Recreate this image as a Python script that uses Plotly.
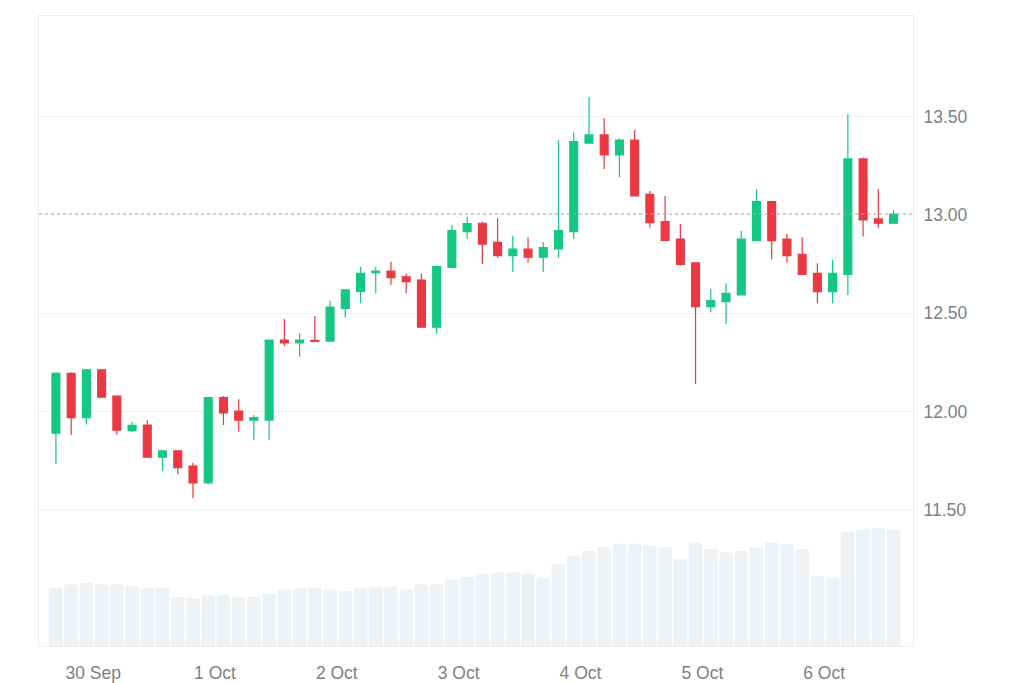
import pandas as pd
import plotly.graph_objects as go

# 3-hour candles
start_time = "2024-09-29 16:40"

opens = [11.89, 12.195, 11.969, 12.212, 12.079, 11.903, 11.932, 11.768, 11.800, 11.723,
         11.638, 12.071, 12.003, 11.957, 11.957, 12.364, 12.350, 12.362, 12.359, 12.525,
         12.611, 12.707, 12.715, 12.686, 12.669, 12.429, 12.734, 12.915, 12.958, 12.861,
         12.793, 12.826, 12.785, 12.827, 12.915, 13.365, 13.407, 13.305, 13.381, 13.105,
         12.966, 12.878, 12.757, 12.534, 12.559, 12.593, 12.869, 13.068, 12.878, 12.800,
         12.703, 12.610, 12.698, 13.285, 12.980, 12.958]
highs = [12.200, 12.200, 12.217, 12.217, 12.082, 11.949, 11.957, 11.800, 11.800, 11.740,
         12.071, 12.079, 12.063, 11.983, 12.364, 12.471, 12.398, 12.486, 12.564, 12.622,
         12.737, 12.737, 12.762, 12.703, 12.703, 12.746, 12.949, 12.991, 12.966, 12.983,
         12.895, 12.887, 12.861, 13.381, 13.419, 13.599, 13.492, 13.390, 13.432, 13.122,
         13.097, 12.954, 12.757, 12.624, 12.653, 12.920, 13.131, 13.068, 12.903, 12.887,
         12.754, 12.771, 13.512, 13.292, 13.131, 13.025]
lows = [11.733, 11.881, 11.935, 12.070, 11.881, 11.898, 11.766, 11.698, 11.681, 11.559,
        11.630, 11.932, 11.898, 11.856, 11.856, 12.334, 12.279, 12.355, 12.359, 12.480,
        12.551, 12.602, 12.644, 12.602, 12.429, 12.393, 12.734, 12.878, 12.751, 12.783,
        12.710, 12.757, 12.710, 12.783, 12.878, 13.365, 13.234, 13.192, 13.097, 12.932,
        12.869, 12.742, 12.140, 12.505, 12.446, 12.593, 12.869, 12.775, 12.757, 12.698,
        12.551, 12.551, 12.593, 12.890, 12.932, 12.958]
closes = [12.195, 11.969, 12.212, 12.073, 11.906, 11.930, 11.768, 11.800, 11.715, 11.638,
          12.071, 11.994, 11.957, 11.969, 12.364, 12.350, 12.364, 12.357, 12.531, 12.619,
          12.703, 12.715, 12.681, 12.661, 12.429, 12.737, 12.920, 12.956, 12.852, 12.793,
          12.826, 12.785, 12.834, 12.920, 13.373, 13.407, 13.305, 13.381, 13.097, 12.961,
          12.871, 12.749, 12.534, 12.564, 12.602, 12.878, 13.068, 12.869, 12.793, 12.698,
          12.610, 12.703, 13.285, 12.975, 12.958, 13.005]
volumes = [5.77, 6.17, 6.33, 6.17, 6.17, 6.03, 5.83, 5.83, 4.93, 4.83,
           5.10, 5.10, 4.93, 4.93, 5.27, 5.67, 5.77, 5.83, 5.67, 5.50,
           5.77, 5.93, 5.93, 5.67, 6.17, 6.17, 6.67, 6.93, 7.20, 7.37,
           7.37, 7.20, 6.83, 8.20, 9.03, 9.53, 9.90, 10.23, 10.23, 10.07,
           9.90, 8.70, 10.37, 9.70, 9.37, 9.53, 9.87, 10.37, 10.20, 9.70,
           7.00, 6.83, 11.43, 11.70, 11.77, 11.60]

price_ticks = [11.5, 12.0, 12.5, 13.0, 13.5]

times = pd.date_range(start_time, periods=len(closes), freq="3h")

green = "#16c784"
red = "#ea3943"
text_gray = "#7d7f85"
font_family = "Liberation Sans, Arial, sans-serif"

fig = go.Figure()

fig.add_trace(go.Bar(
    x=times,
    y=volumes,
    yaxis="y2",
    marker=dict(color="#eff2f5", line=dict(width=0), cornerradius=3),
    width=3 * 3600 * 1000 * 0.92,
    hoverinfo="skip",
    showlegend=False,
))

fig.add_trace(go.Candlestick(
    x=times,
    open=opens,
    high=highs,
    low=lows,
    close=closes,
    increasing=dict(line=dict(color=green, width=1.2), fillcolor=green),
    decreasing=dict(line=dict(color=red, width=1.2), fillcolor=red),
    whiskerwidth=0,
    showlegend=False,
))

# dotted line at the latest price
fig.add_shape(
    type="line", xref="paper", x0=0, x1=1, yref="y",
    y0=closes[-1], y1=closes[-1],
    line=dict(color="#a8aaaf", width=1.2, dash="dot"),
)

fig.update_layout(
    width=1024,
    height=683,
    paper_bgcolor="white",
    plot_bgcolor="white",
    margin=dict(l=39, r=111, t=16, b=37),
    boxgap=0.26,
    font=dict(family=font_family, size=17.5, color=text_gray),
    xaxis=dict(
        type="date",
        range=["2024-09-29 13:20", "2024-10-06 17:30"],
        rangeslider=dict(visible=False),
        dtick=86400000,
        tick0="2024-09-30",
        tickformat="%-d %b",
        showgrid=False,
        showline=True,
        linecolor="#ececec",
        linewidth=1,
        mirror=True,
        ticks="",
        ticklabelstandoff=11,
        tickfont=dict(size=17.5, color=text_gray),
        automargin=False,
        fixedrange=True,
    ),
    yaxis=dict(
        side="right",
        range=[10.808, 14.012],
        tickvals=price_ticks,
        ticktext=[f"{v:.2f}" for v in price_ticks],
        showgrid=True,
        gridcolor="#f0f1f3",
        gridwidth=1,
        zeroline=False,
        showline=True,
        linecolor="#ececec",
        mirror=True,
        ticks="",
        ticklabelstandoff=6,
        tickfont=dict(size=17.5, color=text_gray),
        automargin=False,
    ),
    yaxis2=dict(
        overlaying="y",
        range=[0, 63],
        visible=False,
    ),
)

# drop the default body margin so the figure fills the window exactly
fig.write_html(
    "out.html",
    config={"displayModeBar": False},
    post_script="document.body.style.margin = '0px';",
)
